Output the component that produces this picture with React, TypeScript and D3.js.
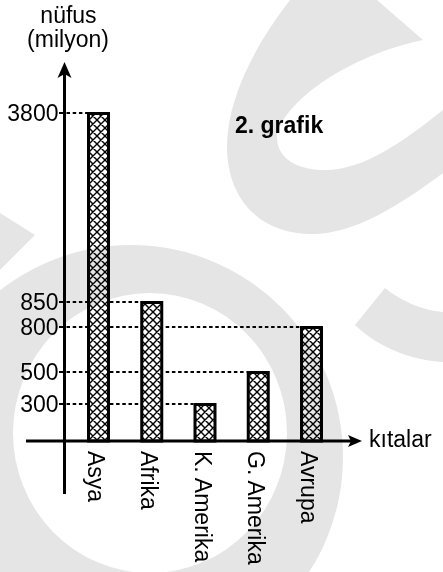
import React from 'react';
import * as d3 from 'd3';

const WIDTH = 443;
const HEIGHT = 572;
const FONT = "'Liberation Sans', Arial, Helvetica, sans-serif";

const categories = ['Asya', 'Afrika', 'K. Amerika', 'G. Amerika', 'Avrupa'];
const population = [3800, 850, 300, 500, 800];
const tickValues = [300, 500, 800, 850, 3800];

const AXIS_X = 64.5;
const BASE_Y = 441;
const BAR_W = 20;

// the printed axis is schematic (not to scale), so every tick gets its own step
const yScale = d3
  .scaleLinear()
  .domain([0, 300, 500, 800, 850, 3800])
  .range([BASE_Y, 403, 371, 326, 301, 112]);

const xScale = d3.scalePoint<string>().domain(categories).range([98.5, 311.5]);

const App = () => {
  const bars = categories.map((c, i) => ({ name: c, value: population[i] }));

  return (
    <svg
      width={WIDTH}
      height={HEIGHT}
      style={{ position: 'absolute', left: 0, top: 0, background: '#fff' }}
      fontFamily={FONT}
    >
      <defs>
        <pattern id="hatch" patternUnits="userSpaceOnUse" width={8} height={8} x={1} y={0}>
          <rect width={8} height={8} fill="#fff" />
          <path d="M0,0L8,8M8,0L0,8M-1,7L1,9M7,-1L9,1M-1,1L1,-1M7,9L9,7" stroke="#000" strokeWidth={1.4} />
        </pattern>
      </defs>

      {/* dashed guides from the axis to each bar */}
      {bars.map((b) => {
        const y = yScale(b.value) + 1;
        const x1 = (xScale(b.name) ?? 0) - BAR_W / 2 - 1.5;
        return (
          <g key={'g' + b.name}>
            <line x1={59} x2={AXIS_X} y1={y} y2={y} stroke="#000" strokeWidth={2} />
            <line x1={AXIS_X + 2} x2={x1} y1={y} y2={y} stroke="#000" strokeWidth={2} strokeDasharray="3.5,2.7" />
          </g>
        );
      })}

      {/* bars */}
      {bars.map((b) => (
        <rect
          key={b.name}
          x={(xScale(b.name) ?? 0) - BAR_W / 2}
          y={yScale(b.value) + 1.5}
          width={BAR_W}
          height={BASE_Y - yScale(b.value) - 1.5}
          fill="url(#hatch)"
          stroke="#000"
          strokeWidth={3}
        />
      ))}

      {/* y axis */}
      <line x1={AXIS_X} x2={AXIS_X} y1={494} y2={72} stroke="#000" strokeWidth={3} />
      <path d={`M${AXIS_X},62L${AXIS_X + 7},78L${AXIS_X},74L${AXIS_X - 7},78Z`} fill="#000" />
      {tickValues.map((t) => (
        <text key={t} x={58.5} y={yScale(t) + 1} dy="0.35em" textAnchor="end" fontSize={23}>
          {t}
        </text>
      ))}
      <text x={68.5} y={23} textAnchor="middle" fontSize={23}>nüfus</text>
      <text x={68} y={47} textAnchor="middle" fontSize={23}>(milyon)</text>

      {/* x axis */}
      <line x1={26} x2={354} y1={BASE_Y} y2={BASE_Y} stroke="#000" strokeWidth={3} />
      <path d={`M362,${BASE_Y}L348,${BASE_Y - 6}L351,${BASE_Y}L348,${BASE_Y + 6}Z`} fill="#000" />
      <text x={369} y={447} fontSize={23}>kıtalar</text>
      {categories.map((c) => (
        <text
          key={'l' + c}
          transform={`translate(${(xScale(c) ?? 0) - 10.5},451) rotate(90)`}
          fontSize={23}
        >
          {c}
        </text>
      ))}

      <text x={235} y={133} fontSize={23} fontWeight="bold">2. grafik</text>

      {/* watermark */}
      <g fill="#e5e5e5" style={{ mixBlendMode: 'multiply' }}>
        <path d="M290,0C255,45 226,100 227,150C229,205 265,234 312,234C355,234 400,205 443,173L443,110C405,140 365,170 325,170C295,170 276,157 277,135C285,100 350,55 423,40L377,0Z" />
        <path
          fillRule="evenodd"
          d="M-81,457A212,212 0 1,0 343,457A212,212 0 1,0 -81,457Z M13,433A137,140 0 1,0 287,433A137,140 0 1,0 13,433Z"
        />
        <path d="M0,213L35,235L0,270Z" />
        <path d="M355,325L385,288C400,300 420,310 443,312L443,362C410,360 378,347 355,325Z" />
      </g>
    </svg>
  );
};

export default App;
